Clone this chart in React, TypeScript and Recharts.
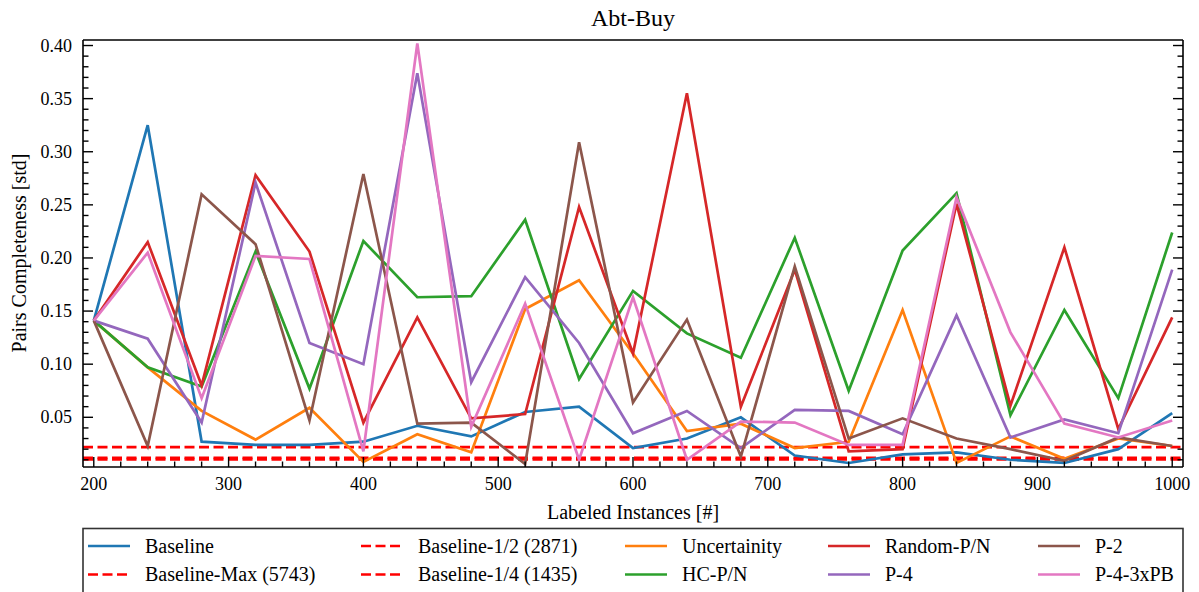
import React from "react";
import { LineChart, Line, XAxis, YAxis, ReferenceLine } from "recharts";

// labeled instances on the x axis
const instances = [200, 240, 280, 320, 360, 400, 440, 480, 520, 560, 600, 640, 680, 720, 760, 800, 840, 880, 920, 960, 1000];

// std of pairs completeness per strategy
const baseline = [0.141, 0.325, 0.027, 0.024, 0.024, 0.027, 0.042, 0.032, 0.055, 0.060, 0.021, 0.030, 0.050, 0.014, 0.007, 0.015, 0.017, 0.010, 0.007, 0.020, 0.054];
const uncertainty = [0.141, 0.097, 0.056, 0.029, 0.059, 0.008, 0.034, 0.017, 0.152, 0.179, 0.110, 0.037, 0.044, 0.021, 0.027, 0.151, 0.007, 0.032, 0.011, 0.030, 0.023];
const hcPN = [0.141, 0.097, 0.079, 0.206, 0.077, 0.216, 0.163, 0.164, 0.236, 0.086, 0.169, 0.129, 0.106, 0.219, 0.075, 0.207, 0.261, 0.052, 0.151, 0.068, 0.224];
const randomPN = [0.141, 0.215, 0.080, 0.278, 0.206, 0.045, 0.144, 0.049, 0.053, 0.248, 0.110, 0.355, 0.060, 0.189, 0.018, 0.020, 0.251, 0.061, 0.210, 0.039, 0.144];
const p4 = [0.141, 0.124, 0.045, 0.271, 0.120, 0.100, 0.374, 0.083, 0.182, 0.120, 0.035, 0.056, 0.021, 0.057, 0.056, 0.034, 0.146, 0.031, 0.048, 0.035, 0.189];
const p2 = [0.141, 0.023, 0.260, 0.213, 0.047, 0.279, 0.044, 0.045, 0.006, 0.309, 0.064, 0.142, 0.013, 0.192, 0.030, 0.049, 0.030, 0.020, 0.009, 0.031, 0.023];
const p43xPB = [0.141, 0.205, 0.068, 0.202, 0.199, 0.018, 0.402, 0.041, 0.157, 0.010, 0.163, 0.010, 0.046, 0.045, 0.024, 0.024, 0.257, 0.130, 0.044, 0.031, 0.047];

// horizontal reference baselines
const baselineMax = 0.0105;
const baselineHalf = 0.022;
const baselineQuarter = 0.0118;

const xMajorTicks = [200, 300, 400, 500, 600, 700, 800, 900, 1000];
const yMajorTicks = [0.05, 0.1, 0.15, 0.2, 0.25, 0.3, 0.35, 0.4];

const xTicks: number[] = [];
for (let v = 200; v <= 1000; v += 20) xTicks.push(v);
const yTicks: number[] = [];
for (let i = 1; i <= 40; i++) yTicks.push(i / 100);

const isYMajor = (v: number) => yMajorTicks.some((m) => Math.abs(m - v) < 1e-6);

const FONT = "'Liberation Serif', 'DejaVu Serif', serif";
const MAJOR = 10;
const MINOR = 5.5;
const TICK_W = 1.4;
const LINE_W = 2.7;

const data = instances.map((x, i) => ({
  x,
  baseline: baseline[i],
  uncertainty: uncertainty[i],
  hcPN: hcPN[i],
  randomPN: randomPN[i],
  p4: p4[i],
  p2: p2[i],
  p43xPB: p43xPB[i],
}));

const series = [
  { key: "baseline", name: "Baseline", color: "#1f77b4" },
  { key: "uncertainty", name: "Uncertainity", color: "#ff7f0e" },
  { key: "hcPN", name: "HC-P/N", color: "#2ca02c" },
  { key: "randomPN", name: "Random-P/N", color: "#d62728" },
  { key: "p4", name: "P-4", color: "#9467bd" },
  { key: "p2", name: "P-2", color: "#8c564b" },
  { key: "p43xPB", name: "P-4-3xPB", color: "#e377c2" },
];

const legendItems = [
  { name: "Baseline", color: "#1f77b4", dashed: false },
  { name: "Baseline-Max (5743)", color: "#ff0000", dashed: true },
  { name: "Baseline-1/2 (2871)", color: "#ff0000", dashed: true },
  { name: "Baseline-1/4 (1435)", color: "#ff0000", dashed: true },
  { name: "Uncertainity", color: "#ff7f0e", dashed: false },
  { name: "HC-P/N", color: "#2ca02c", dashed: false },
  { name: "Random-P/N", color: "#d62728", dashed: false },
  { name: "P-4", color: "#9467bd", dashed: false },
  { name: "P-2", color: "#8c564b", dashed: false },
  { name: "P-4-3xPB", color: "#e377c2", dashed: false },
];
const legendTextX = [145, 418, 682, 885, 1095];
const legendRowY = [546, 574.5];

const XTickBottom = (props: any) => {
  const { x, y, payload } = props;
  const major = xMajorTicks.includes(payload.value);
  return (
    <g>
      <line x1={x} x2={x} y1={y} y2={y - (major ? MAJOR : MINOR)} stroke="#000" strokeWidth={TICK_W} />
      {major && (
        <text x={x} y={y + 23} textAnchor="middle" fontSize={18} fontFamily={FONT} fill="#000">
          {payload.value}
        </text>
      )}
    </g>
  );
};

const XTickTop = (props: any) => {
  const { x, y, payload } = props;
  const major = xMajorTicks.includes(payload.value);
  return <line x1={x} x2={x} y1={y} y2={y + (major ? MAJOR : MINOR)} stroke="#000" strokeWidth={TICK_W} />;
};

const YTickLeft = (props: any) => {
  const { x, y, payload } = props;
  const major = isYMajor(payload.value);
  return (
    <g>
      <line x1={x} x2={x + (major ? MAJOR : MINOR)} y1={y} y2={y} stroke="#000" strokeWidth={TICK_W} />
      {major && (
        <text x={x - 11} y={y + 6} textAnchor="end" fontSize={18} fontFamily={FONT} fill="#000">
          {payload.value.toFixed(2)}
        </text>
      )}
    </g>
  );
};

const YTickRight = (props: any) => {
  const { x, y, payload } = props;
  const major = isYMajor(payload.value);
  return <line x1={x} x2={x - (major ? MAJOR : MINOR)} y1={y} y2={y} stroke="#000" strokeWidth={TICK_W} />;
};

const axisLine = { stroke: "#000", strokeWidth: 1.6 };

export default function App() {
  return (
    <div style={{ position: "absolute", left: 0, top: 0, width: 1199, height: 592, overflow: "hidden", background: "#fff" }}>
      {/* plot area: x 83..1183, y 40..467 */}
      <LineChart width={1199} height={592} data={data} margin={{ top: 39, right: 15, bottom: 95, left: 23 }}>
        <XAxis
          dataKey="x"
          type="number"
          domain={[192, 1008]}
          ticks={xTicks}
          interval={0}
          height={30}
          tickSize={0}
          tickMargin={0}
          tickLine={false}
          axisLine={axisLine}
          tick={<XTickBottom />}
          allowDataOverflow
        />
        <XAxis
          xAxisId="top"
          orientation="top"
          type="number"
          domain={[192, 1008]}
          ticks={xTicks}
          interval={0}
          height={1}
          tickSize={0}
          tickMargin={0}
          tickLine={false}
          axisLine={axisLine}
          tick={<XTickTop />}
          allowDataOverflow
        />
        <YAxis
          type="number"
          domain={[0.0032, 0.4052]}
          ticks={yTicks}
          interval={0}
          width={60}
          tickSize={0}
          tickMargin={0}
          tickLine={false}
          axisLine={axisLine}
          tick={<YTickLeft />}
          allowDataOverflow
        />
        <YAxis
          yAxisId="right"
          orientation="right"
          type="number"
          domain={[0.0032, 0.4052]}
          ticks={yTicks}
          interval={0}
          width={1}
          tickSize={0}
          tickMargin={0}
          tickLine={false}
          axisLine={axisLine}
          tick={<YTickRight />}
          allowDataOverflow
        />
        <ReferenceLine y={baselineMax} stroke="#ff0000" strokeWidth={2.8} strokeDasharray="10 4.5" />
        <ReferenceLine y={baselineHalf} stroke="#ff0000" strokeWidth={2.8} strokeDasharray="10 4.5" />
        <ReferenceLine y={baselineQuarter} stroke="#ff0000" strokeWidth={2.8} strokeDasharray="10 4.5" />
        {series.map((s) => (
          <Line
            key={s.key}
            type="linear"
            dataKey={s.key}
            name={s.name}
            stroke={s.color}
            strokeWidth={LINE_W}
            dot={false}
            isAnimationActive={false}
          />
        ))}
      </LineChart>

      <svg width={1199} height={592} style={{ position: "absolute", left: 0, top: 0, pointerEvents: "none" }}>
        <text x={633} y={26} textAnchor="middle" fontSize={24} fontFamily={FONT} fill="#000">
          Abt-Buy
        </text>
        <text x={633} y={519} textAnchor="middle" fontSize={20} fontFamily={FONT} fill="#000">
          Labeled Instances [#]
        </text>
        <text
          x={0}
          y={0}
          transform="translate(26,253) rotate(-90)"
          textAnchor="middle"
          fontSize={20}
          fontFamily={FONT}
          fill="#000"
        >
          Pairs Completeness [std]
        </text>
        <rect x={83} y={528.5} width={1100} height={80} fill="#fff" stroke="#333" strokeWidth={1.6} />
        {legendItems.map((item, i) => {
          const col = Math.floor(i / 2);
          const row = i % 2;
          const tx = legendTextX[col];
          const ly = legendRowY[row];
          return (
            <g key={item.name}>
              <line
                x1={tx - 57}
                x2={tx - 15}
                y1={ly}
                y2={ly}
                stroke={item.color}
                strokeWidth={2.6}
                strokeDasharray={item.dashed ? "10 4.5" : undefined}
              />
              <text x={tx} y={ly + 6.5} fontSize={20} fontFamily={FONT} fill="#000">
                {item.name}
              </text>
            </g>
          );
        })}
      </svg>
    </div>
  );
}
